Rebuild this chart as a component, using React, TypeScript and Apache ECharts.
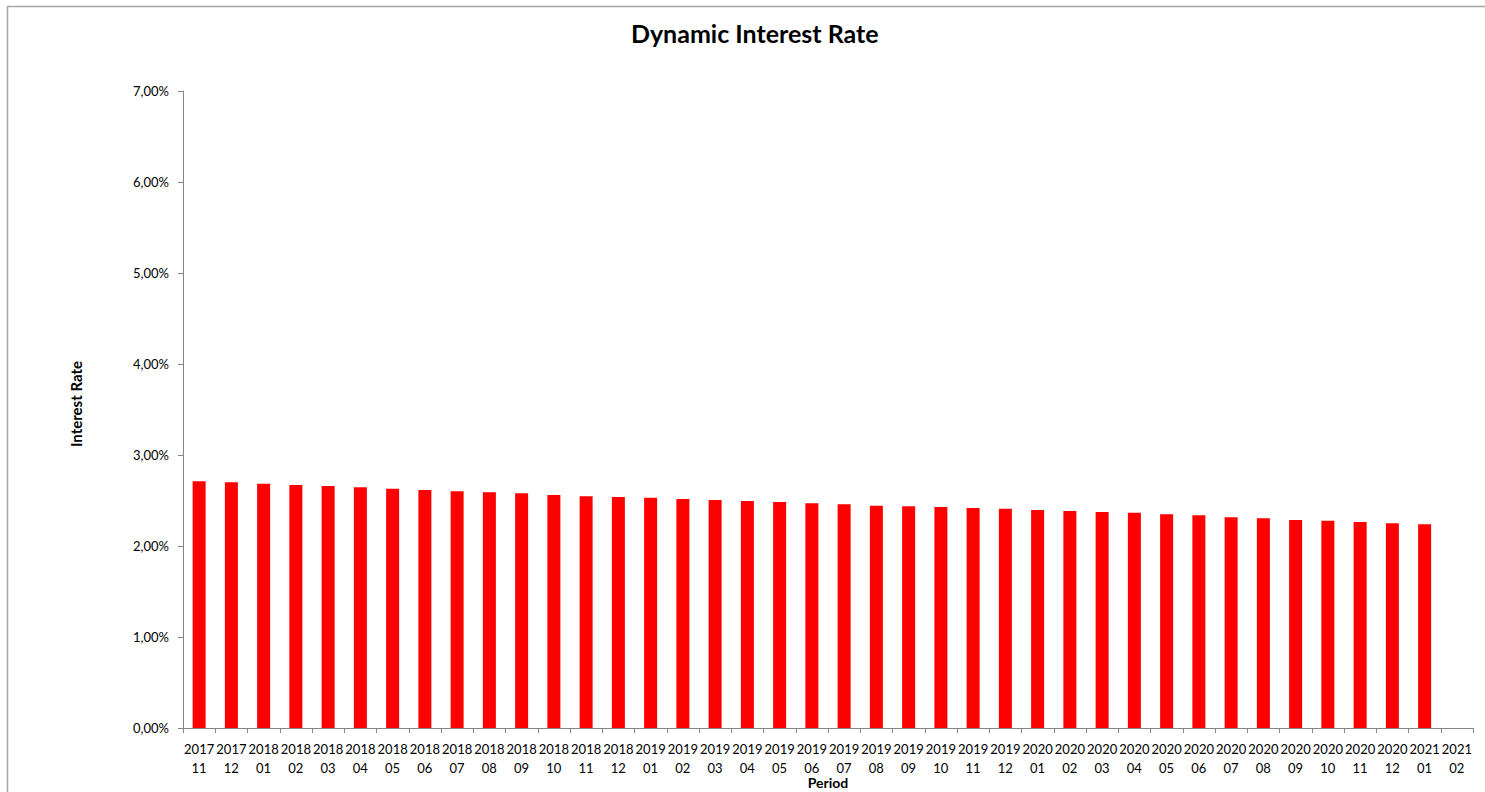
import React, { useEffect, useRef } from "react";
import * as echarts from "echarts";

const periods: string[] = [
  "2017\n11", "2017\n12", "2018\n01", "2018\n02", "2018\n03", "2018\n04", "2018\n05", "2018\n06",
  "2018\n07", "2018\n08", "2018\n09", "2018\n10", "2018\n11", "2018\n12", "2019\n01", "2019\n02",
  "2019\n03", "2019\n04", "2019\n05", "2019\n06", "2019\n07", "2019\n08", "2019\n09", "2019\n10",
  "2019\n11", "2019\n12", "2020\n01", "2020\n02", "2020\n03", "2020\n04", "2020\n05", "2020\n06",
  "2020\n07", "2020\n08", "2020\n09", "2020\n10", "2020\n11", "2020\n12", "2021\n01", "2021\n02",
];

const interestRate: (number | null)[] = [
  2.711, 2.700, 2.685, 2.670, 2.659, 2.645, 2.630, 2.615,
  2.601, 2.590, 2.579, 2.560, 2.546, 2.538, 2.531, 2.516,
  2.505, 2.495, 2.484, 2.469, 2.458, 2.443, 2.436, 2.429,
  2.418, 2.410, 2.396, 2.385, 2.374, 2.366, 2.348, 2.337,
  2.315, 2.304, 2.286, 2.278, 2.264, 2.249, 2.238, null,
];

const yMin = 0;
const yMax = 7;
const yStep = 1;

const FONT = "Lato, 'Open Sans', sans-serif";

export default function App() {
  const ref = useRef<HTMLDivElement>(null);

  useEffect(() => {
    if (!ref.current) return;
    const chart = echarts.init(ref.current, undefined, { renderer: "svg" });
    chart.setOption({
      animation: false,
      backgroundColor: "#ffffff",
      textStyle: { fontFamily: FONT },
      title: {
        text: "Dynamic Interest Rate",
        left: 631,
        top: 20,
        padding: 0,
        textStyle: { fontFamily: FONT, fontSize: 25, fontWeight: "bold", color: "#000000" },
      },
      graphic: [
        {
          type: "rect",
          left: 5,
          top: 4,
          shape: { width: 1600, height: 900 },
          style: { fill: "none", stroke: "#a6a6a6", lineWidth: 1.5 },
          silent: true,
          z: -1,
        },
        {
          type: "text",
          x: 76,
          y: 404,
          rotation: Math.PI / 2,
          style: {
            text: "Interest Rate",
            fontFamily: FONT,
            fontSize: 15,
            fontWeight: "bold",
            fill: "#000000",
            align: "center",
            verticalAlign: "middle",
          },
        },
        {
          type: "text",
          x: 828,
          y: 782,
          style: {
            text: "Period",
            fontFamily: FONT,
            fontSize: 14,
            fontWeight: "bold",
            fill: "#000000",
            align: "center",
            verticalAlign: "middle",
          },
        },
      ],
      grid: { left: 183, right: 12, top: 91, bottom: 64, containLabel: false, outerBoundsMode: "none" },
      xAxis: {
        type: "category",
        data: periods,
        boundaryGap: true,
        axisLine: { show: true, lineStyle: { color: "#868686", width: 1 } },
        axisTick: { show: true, alignWithLabel: false, length: 5, interval: 0, lineStyle: { color: "#868686" } },
        axisLabel: {
          interval: 0,
          margin: 11,
          fontFamily: FONT,
          fontSize: 13,
          lineHeight: 19,
          color: "#000000",
        },
        splitLine: { show: false },
      },
      yAxis: {
        type: "value",
        min: yMin,
        max: yMax,
        interval: yStep,
        axisLine: { show: true, lineStyle: { color: "#868686", width: 1 } },
        axisTick: { show: true, length: 5, inside: false, lineStyle: { color: "#868686" } },
        axisLabel: {
          margin: 14,
          fontFamily: FONT,
          fontSize: 13,
          color: "#000000",
          formatter: (v: number) => v.toFixed(2).replace(".", ",") + "%",
        },
        splitLine: { show: false },
      },
      series: [
        {
          type: "bar",
          data: interestRate,
          barWidth: 13,
          itemStyle: { color: "#ff0000" },
        },
      ],
    });
    return () => chart.dispose();
  }, []);

  return (
    <div
      ref={ref}
      style={{ position: "fixed", left: 0, top: 0, width: 1485, height: 792 }}
    />
  );
}
